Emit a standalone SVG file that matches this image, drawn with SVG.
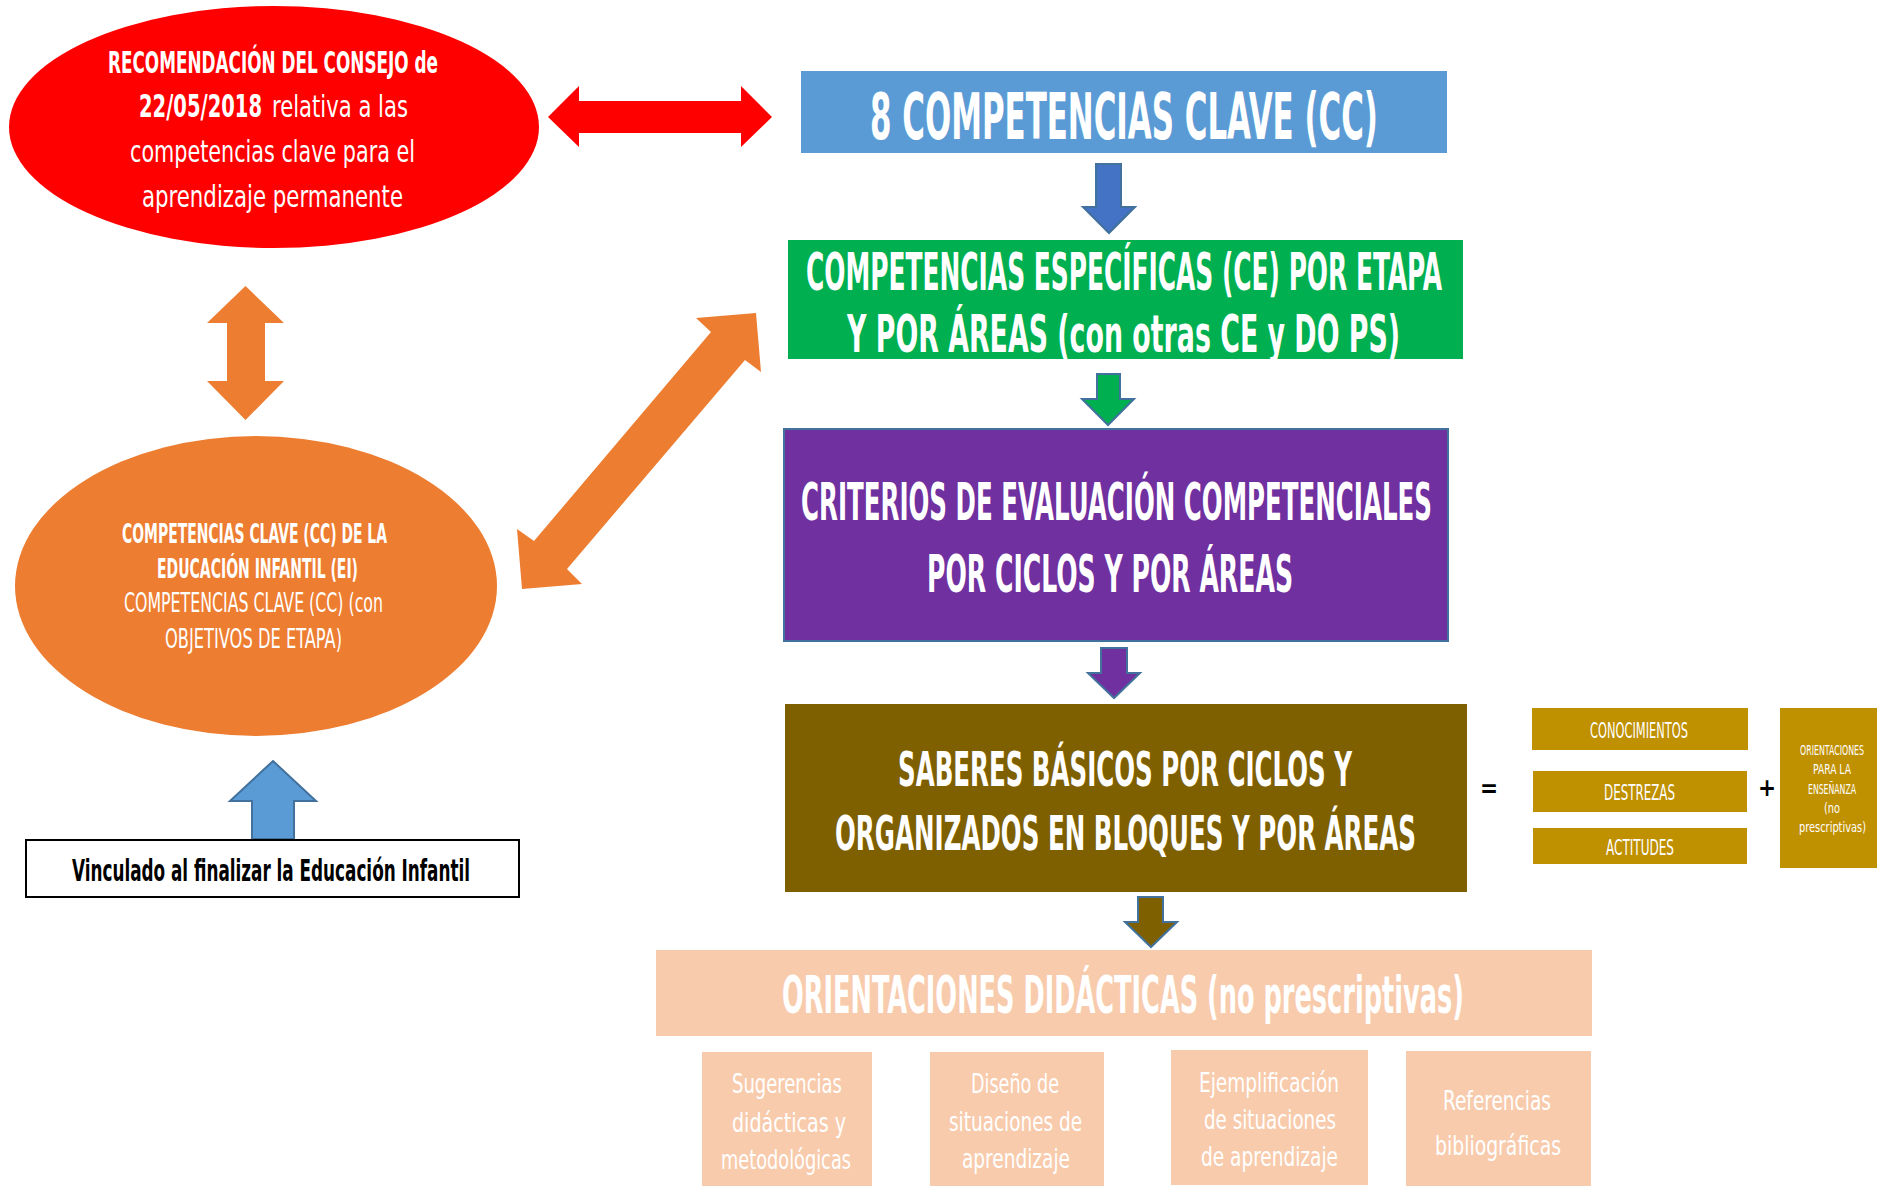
<svg xmlns="http://www.w3.org/2000/svg" width="1877" height="1186" viewBox="0 0 1877 1186">
<style>
text{font-family:'DejaVu Sans Condensed','DejaVu Sans','Liberation Sans',sans-serif;fill:#fff;}
.b{font-weight:bold;}
.k{fill:#000;}
.dn{stroke:#41719C;stroke-width:2;}
</style>
<rect width="1877" height="1186" fill="#fff"/>
<g id="connectors">
<path id="red-arrow" d="M548,117 L579,86 L579,101 L741,101 L741,86 L772,117 L741,147 L741,133 L579,133 L579,147 Z" fill="#FF0000"/>
<path id="orange-vertical" d="M245.5,286 L284,323 L265,323 L265,381 L284,381 L245.5,420 L207,381 L227,381 L227,323 L207,323 Z" fill="#ED7D31"/>
<path id="orange-diagonal" d="M756,313 L761,372 L745,360 L567,569 L582,584 L522,589 L517,529 L534,541 L711,332 L696,318 Z" fill="#ED7D31"/>
<path id="arrow-blue" class="dn" d="M1096,164 L1121,164 L1121,207 L1135,207 L1109,233 L1083,207 L1096,207 Z" fill="#4472C4" stroke="#2F528F"/>
<path id="arrow-green" class="dn" d="M1097,374 L1120,374 L1120,399 L1134,399 L1108,425 L1082,399 L1097,399 Z" fill="#00B050"/>
<path id="arrow-purple" class="dn" d="M1101,648 L1127,648 L1127,673 L1140,673 L1114,698 L1088,673 L1101,673 Z" fill="#7030A0"/>
<path id="arrow-olive" class="dn" d="M1138,897 L1163,897 L1163,922 L1177,922 L1151,947 L1125,922 L1138,922 Z" fill="#7F6000"/>
<path id="arrow-up" class="dn" d="M273,761 L316,801 L294,801 L294,839 L252,839 L252,801 L230,801 Z" fill="#5B9BD5"/>
</g>
<g id="node-recomendacion">
<ellipse cx="274" cy="127" rx="265" ry="121" fill="#FF0000"/>
<text class="b" transform="translate(108,73) scale(1,1.515)" font-size="19.8" textLength="330" lengthAdjust="spacingAndGlyphs">RECOMENDACIÓN DEL CONSEJO de</text>
<text class="b" transform="translate(139,117) scale(1,1.43)" font-size="21.7" textLength="123" lengthAdjust="spacingAndGlyphs">22/05/2018</text>
<text transform="translate(272,117) scale(1,1.28)" font-size="23.4" textLength="136" lengthAdjust="spacingAndGlyphs">relativa a las</text>
<text transform="translate(130,162) scale(1,1.3)" font-size="23" textLength="285" lengthAdjust="spacingAndGlyphs">competencias clave para el</text>
<text transform="translate(142,207) scale(1,1.27)" font-size="23.6" textLength="261" lengthAdjust="spacingAndGlyphs">aprendizaje permanente</text>
</g>
<g id="node-cc-ei">
<ellipse cx="256" cy="586" rx="241" ry="150" fill="#ED7D31"/>
<text class="b" transform="translate(122,543) scale(1,1.75)" font-size="15.4" textLength="265" lengthAdjust="spacingAndGlyphs">COMPETENCIAS CLAVE (CC) DE LA</text>
<text class="b" transform="translate(157,578) scale(1,1.75)" font-size="15.4" textLength="201" lengthAdjust="spacingAndGlyphs">EDUCACIÓN INFANTIL (EI)</text>
<text transform="translate(124,612) scale(1,1.54)" font-size="17.5" textLength="259" lengthAdjust="spacingAndGlyphs">COMPETENCIAS CLAVE (CC) (con</text>
<text transform="translate(165,648) scale(1,1.52)" font-size="17.8" textLength="177" lengthAdjust="spacingAndGlyphs">OBJETIVOS DE ETAPA)</text>
</g>
<g id="node-vinculado">
<rect x="26" y="840" width="493" height="57" fill="#fff" stroke="#000" stroke-width="2"/>
<text class="b k" transform="translate(72,881) scale(1,1.61)" font-size="18.6" textLength="398" lengthAdjust="spacingAndGlyphs">Vinculado al finalizar la Educación Infantil</text>
</g>
<g id="node-8cc">
<rect x="801" y="71" width="646" height="82" fill="#5B9BD5"/>
<text class="b" transform="translate(870,139) scale(1,1.87)" font-size="34.2" textLength="508" lengthAdjust="spacingAndGlyphs">8 COMPETENCIAS CLAVE (CC)</text>
</g>
<g id="node-ce">
<rect x="788" y="240" width="675" height="119" fill="#00B050"/>
<text class="b" transform="translate(806,290) scale(1,1.89)" font-size="27.5" textLength="636" lengthAdjust="spacingAndGlyphs">COMPETENCIAS ESPECÍFICAS (CE) POR ETAPA</text>
<text class="b" transform="translate(847,352) scale(1,1.745)" font-size="29.8" textLength="553" lengthAdjust="spacingAndGlyphs">Y POR ÁREAS (con otras CE y DO PS)</text>
</g>
<g id="node-criterios">
<rect x="784" y="429" width="664" height="212" fill="#7030A0" stroke="#41719C" stroke-width="2"/>
<text class="b" transform="translate(801,520) scale(1,1.92)" font-size="27.1" textLength="631" lengthAdjust="spacingAndGlyphs">CRITERIOS DE EVALUACIÓN COMPETENCIALES</text>
<text class="b" transform="translate(927,592) scale(1,1.86)" font-size="27.9" textLength="366" lengthAdjust="spacingAndGlyphs">POR CICLOS Y POR ÁREAS</text>
</g>
<g id="node-saberes">
<rect x="785" y="704" width="682" height="188" fill="#7F6000"/>
<text class="b" transform="translate(898,786) scale(1,1.76)" font-size="27.2" textLength="454" lengthAdjust="spacingAndGlyphs">SABERES BÁSICOS POR CICLOS Y</text>
<text class="b" transform="translate(835,850) scale(1,1.76)" font-size="27.2" textLength="581" lengthAdjust="spacingAndGlyphs">ORGANIZADOS EN BLOQUES Y POR ÁREAS</text>
</g>
<text class="b k" x="1489" y="797" font-size="24" text-anchor="middle">=</text>
<g id="node-conocimientos">
<rect x="1532" y="708" width="216" height="42" fill="#BF9000"/>
<text transform="translate(1590,738) scale(1,1.73)" font-size="12.7" textLength="98" lengthAdjust="spacingAndGlyphs">CONOCIMIENTOS</text>
</g>
<g id="node-destrezas">
<rect x="1533" y="771" width="214" height="41" fill="#BF9000"/>
<text transform="translate(1604,800) scale(1,1.67)" font-size="13.2" textLength="71" lengthAdjust="spacingAndGlyphs">DESTREZAS</text>
</g>
<g id="node-actitudes">
<rect x="1533" y="828" width="214" height="36" fill="#BF9000"/>
<text transform="translate(1606,855) scale(1,1.65)" font-size="13.3" textLength="68" lengthAdjust="spacingAndGlyphs">ACTITUDES</text>
</g>
<text class="b k" x="1767" y="796" font-size="24" text-anchor="middle">+</text>
<g id="node-orientaciones-ensenanza">
<rect x="1780" y="708" width="97" height="160" fill="#BF9000"/>
<text transform="translate(1800,755) scale(1,1.63)" font-size="8.6" textLength="64" lengthAdjust="spacingAndGlyphs">ORIENTACIONES</text>
<text transform="translate(1813,774) scale(1,1.4)" font-size="10" textLength="38" lengthAdjust="spacingAndGlyphs">PARA LA</text>
<text transform="translate(1808,794) scale(1,1.63)" font-size="8.6" textLength="48" lengthAdjust="spacingAndGlyphs">ENSEÑANZA</text>
<text transform="translate(1824,813) scale(1,1.28)" font-size="10.9" textLength="16" lengthAdjust="spacingAndGlyphs">(no</text>
<text transform="translate(1799,832) scale(1,1.28)" font-size="10.9" textLength="67" lengthAdjust="spacingAndGlyphs">prescriptivas)</text>
</g>
<g id="node-orientaciones-didacticas">
<rect x="656" y="950" width="936" height="86" fill="#F8CBAD"/>
<text class="b" transform="translate(782,1013) scale(1,1.83)" font-size="28.4" textLength="682" lengthAdjust="spacingAndGlyphs">ORIENTACIONES DIDÁCTICAS (no prescriptivas)</text>
</g>
<g id="node-sugerencias">
<rect x="702" y="1052" width="170" height="134" fill="#F8CBAD"/>
<text transform="translate(732,1093) scale(1,1.36)" font-size="19.9" textLength="110" lengthAdjust="spacingAndGlyphs">Sugerencias</text>
<text transform="translate(732,1132) scale(1,1.27)" font-size="21.2" textLength="114" lengthAdjust="spacingAndGlyphs">didácticas y</text>
<text transform="translate(721,1169) scale(1,1.37)" font-size="19.7" textLength="130" lengthAdjust="spacingAndGlyphs">metodológicas</text>
</g>
<g id="node-diseno">
<rect x="930" y="1052" width="174" height="134" fill="#F8CBAD"/>
<text transform="translate(971,1093) scale(1,1.38)" font-size="19.6" textLength="88" lengthAdjust="spacingAndGlyphs">Diseño de</text>
<text transform="translate(949,1131) scale(1,1.32)" font-size="20.5" textLength="133" lengthAdjust="spacingAndGlyphs">situaciones de</text>
<text transform="translate(962,1168) scale(1,1.32)" font-size="20.5" textLength="108" lengthAdjust="spacingAndGlyphs">aprendizaje</text>
</g>
<g id="node-ejemplificacion">
<rect x="1171" y="1050" width="197" height="135" fill="#F8CBAD"/>
<text transform="translate(1199,1092) scale(1,1.31)" font-size="20.6" textLength="140" lengthAdjust="spacingAndGlyphs">Ejemplificación</text>
<text transform="translate(1204,1129) scale(1,1.33)" font-size="20.3" textLength="132" lengthAdjust="spacingAndGlyphs">de situaciones</text>
<text transform="translate(1201,1166) scale(1,1.32)" font-size="20.5" textLength="137" lengthAdjust="spacingAndGlyphs">de aprendizaje</text>
</g>
<g id="node-referencias">
<rect x="1406" y="1051" width="185" height="135" fill="#F8CBAD"/>
<text transform="translate(1443,1110) scale(1,1.33)" font-size="20.3" textLength="108" lengthAdjust="spacingAndGlyphs">Referencias</text>
<text transform="translate(1435,1155) scale(1,1.29)" font-size="21" textLength="126" lengthAdjust="spacingAndGlyphs">bibliográficas</text>
</g>
</svg>
